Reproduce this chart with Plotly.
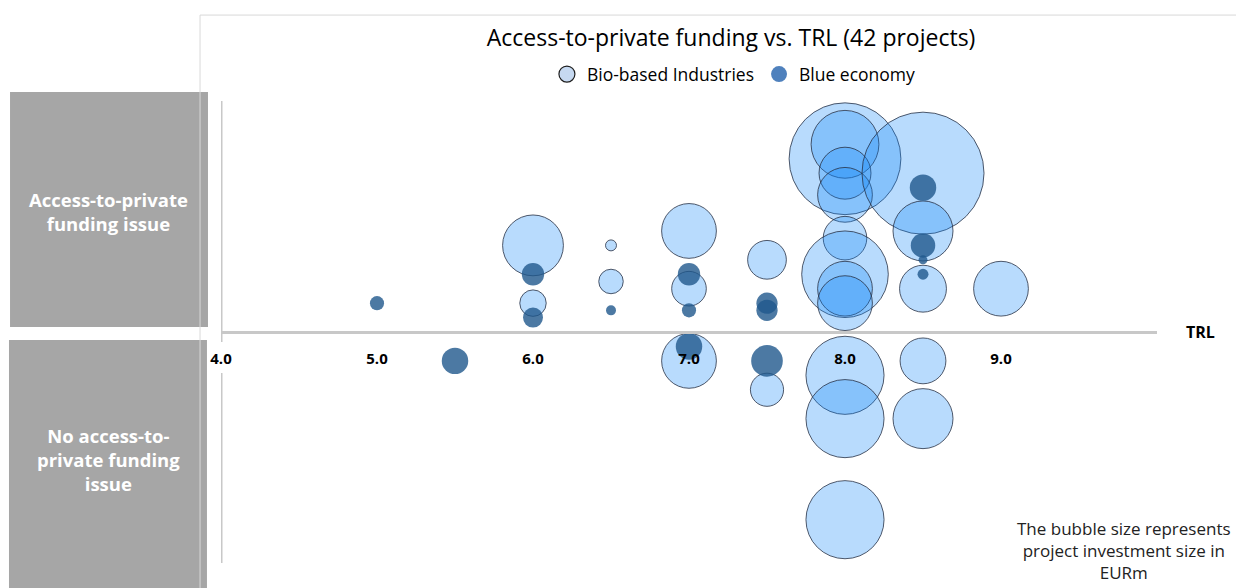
import plotly.graph_objects as go

# TRL level (x), funding-issue position (y: >0 issue, <0 no issue), investment in EURm (bubble size)
bio_trl = [6.0, 6.0, 6.5, 6.5, 7.0, 7.0, 7.5, 8.0, 8.0, 8.0, 8.0, 8.0, 8.0, 8.0, 8.0,
           8.5, 8.5, 8.5, 9.0, 7.0, 7.5, 8.0, 8.0, 8.0, 8.5, 8.5]
bio_pos = [6, 2, 6, 3.5, 7, 3, 5, 12, 13, 11, 9.5, 6.5, 4, 3, 2,
           11, 7, 3, 3, -2, -4, -3, -6, -13, -2, -6]
bio_inv = [37, 7, 1.2, 6, 30, 12, 15, 125, 46, 27, 30, 19, 75, 30, 30,
           149, 36, 22, 30, 30, 11, 61, 61, 61, 21, 36]

blue_trl = [5.0, 6.0, 6.0, 6.5, 7.0, 7.0, 7.5, 7.5, 8.5, 8.5, 8.5, 8.5, 5.5, 7.0, 7.5]
blue_pos = [2, 4, 1, 1.5, 4, 1.5, 2, 1.5, 10, 6, 5, 4, -2, -1, -2]
blue_inv = [2, 5, 4, 1, 5, 2, 4.5, 4.5, 7, 6, 0.8, 1.2, 7, 7, 10]

tick_vals = [4, 5, 6, 7, 8, 9]
tick_text = ["4.0", "5.0", "6.0", "7.0", "8.0", "9.0"]

FONT = "Open Sans, sans-serif"
BIO_FILL = "rgba(20,137,250,0.3)"
BIO_LINE = "rgba(40,50,70,0.8)"
BLUE_FILL = "rgba(31,88,140,0.8)"

fig = go.Figure()
fig.add_trace(go.Scatter(
    x=bio_trl, y=bio_pos, mode="markers", name="Bio-based Industries", showlegend=False,
    marker=dict(size=bio_inv, sizemode="area", sizeref=0.02, opacity=1,
                color=BIO_FILL, line=dict(color=BIO_LINE, width=1)),
    cliponaxis=False, hoverinfo="skip"))
fig.add_trace(go.Scatter(
    x=blue_trl, y=blue_pos, mode="markers", name="Blue economy", showlegend=False,
    marker=dict(size=blue_inv, sizemode="area", sizeref=0.02, opacity=1,
                color=BLUE_FILL, line=dict(width=0)),
    cliponaxis=False, hoverinfo="skip"))

# legend-only entries (larger symbols than the default bubble legend)
fig.add_trace(go.Scatter(
    x=[None], y=[None], mode="markers", name="Bio-based Industries",
    marker=dict(size=16, color="#c6d9f1", line=dict(color="#1f1f1f", width=1.2))))
fig.add_trace(go.Scatter(
    x=[None], y=[None], mode="markers", name="Blue economy",
    marker=dict(size=16, color="#4f81bd", line=dict(width=0))))

# frame lines and gray label boxes (paper coords)
shapes = [
    dict(type="line", xref="paper", yref="paper", x0=-0.0224, x1=1.1, y0=1.186, y1=1.186,
         line=dict(color="#d9d9d9", width=1)),
    dict(type="line", xref="paper", yref="paper", x0=-0.0224, x1=-0.0224, y0=1.186, y1=-0.07,
         line=dict(color="#d9d9d9", width=1)),
    dict(type="rect", xref="paper", yref="paper", x0=-0.2254, x1=-0.0139, y0=0.5108, y1=1.0195,
         fillcolor="#a6a6a6", line=dict(width=0), layer="below"),
    dict(type="rect", xref="paper", yref="paper", x0=-0.2265, x1=-0.015, y0=-0.07, y1=0.4827,
         fillcolor="#a6a6a6", line=dict(width=0), layer="below"),
    # vertical axis line with gap for the 4.0 label
    dict(type="line", xref="x", yref="y", x0=4, x1=4, y0=16, y1=-0.69,
         line=dict(color="#c8c8c8", width=3)),
    dict(type="line", xref="x", yref="y", x0=4, x1=4, y0=-2.84, y1=-16,
         line=dict(color="#c8c8c8", width=3)),
]

box_font = dict(family=FONT, size=18.5, color="white")
annotations = [
    dict(xref="paper", yref="paper", x=-0.1197, y=0.76, showarrow=False,
         xanchor="center", yanchor="middle",
         text="<b>Access-to-private<br>funding issue</b>",
         font=box_font),
    dict(xref="paper", yref="paper", x=-0.1197, y=0.225, showarrow=False,
         xanchor="center", yanchor="middle",
         text="<b>No access-to-<br>private funding<br>issue</b>",
         font=box_font),
    dict(xref="paper", yref="paper", x=1.046, y=0.5, showarrow=False,
         xanchor="center", yanchor="middle",
         text="<b>TRL</b>", font=dict(family=FONT, size=16, color="black")),
    dict(xref="paper", yref="paper", x=0.965, y=0.026, showarrow=False,
         xanchor="center", yanchor="middle",
         text="The bubble size represents<br>project investment size in<br>EURm",
         font=dict(family=FONT, size=17, color="#222222")),
]

fig.update_layout(
    width=1236, height=580,
    margin=dict(l=213, r=87, t=93, b=25),
    plot_bgcolor="white", paper_bgcolor="white",
    font=dict(family=FONT, color="black"),
    title=dict(text="Access-to-private funding vs. TRL (42 projects)",
               x=0.585, y=0.948, xanchor="center", yanchor="middle",
               font=dict(family=FONT, size=23, color="black")),
    legend=dict(orientation="h", x=0.548, y=1.058, xanchor="center", yanchor="middle",
                itemsizing="trace", font=dict(family=FONT, size=17.5, color="black"),
                bgcolor="rgba(0,0,0,0)"),
    xaxis=dict(range=[4, 10], tickvals=tick_vals,
               ticktext=[f"<b>{t}</b>" for t in tick_text],
               showgrid=False, zeroline=False, showline=True, linecolor="#c8c8c8",
               linewidth=3, anchor="free", position=0.5, ticks="",
               ticklabelstandoff=12, tickfont=dict(family=FONT, size=15, color="black")),
    yaxis=dict(range=[-16, 16], visible=False, showgrid=False, zeroline=False),
    shapes=shapes, annotations=annotations,
)

fig.write_html("out.html")
